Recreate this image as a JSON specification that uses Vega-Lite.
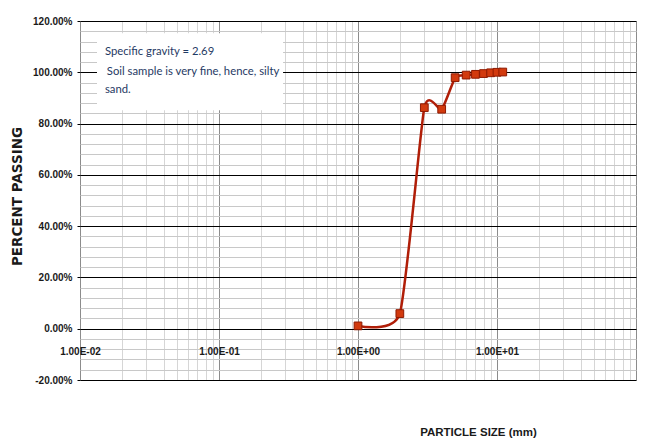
{
  "$schema": "https://vega.github.io/schema/vega-lite/v6.json",
  "width": 556,
  "height": 359,
  "autosize": {"type": "none"},
  "padding": {"left": 80, "top": 21, "right": 9, "bottom": 64},
  "background": "white",
  "config": {"view": {"stroke": null}},
  "datasets": {
    "sieve": [
      {"size": 1, "passing": 0.011},
      {"size": 2, "passing": 0.059},
      {"size": 3, "passing": 0.862},
      {"size": 4, "passing": 0.856},
      {"size": 5, "passing": 0.979},
      {"size": 6, "passing": 0.989},
      {"size": 7, "passing": 0.992},
      {"size": 8, "passing": 0.995},
      {"size": 9, "passing": 0.998},
      {"size": 10, "passing": 1.0},
      {"size": 11, "passing": 1.001}
    ],
    "box": [{"x1": 0.01325, "x2": 0.289, "y1": 0.852, "y2": 1.152}],
    "notes": [
      {"t": "Specific gravity = 2.69", "x": 0.0151, "y": 1.079},
      {"t": "Soil sample is very fine, hence, silty", "x": 0.0156, "y": 1.001},
      {"t": "sand.", "x": 0.0151, "y": 0.93}
    ]
  },
  "layer": [
    {
      "data": {"name": "sieve"},
      "mark": {"type": "line", "interpolate": "cardinal", "tension": 0.45, "color": "#B01E08", "strokeWidth": 2.5},
      "encoding": {
        "x": {
          "field": "size", "type": "quantitative",
          "scale": {"type": "log", "domain": [0.01, 100], "nice": false},
          "axis": {
            "title": "PARTICLE SIZE (mm)",
            "orient": "bottom",
            "offset": -51.3,
            "tickCount": 200,
            "values": [0.01,0.02,0.03,0.04,0.05,0.06,0.07,0.08,0.09,0.1,0.2,0.3,0.4,0.5,0.6,0.7,0.8,0.9,1,2,3,4,5,6,7,8,9,10,20,30,40,50,60,70,80,90,100],
            "labelExpr": "(abs(log(datum.value)/LN10 - round(log(datum.value)/LN10)) < 1e-6 && datum.value < 50) ? ('1.00E' + (datum.value < 1 ? '-0' : '+0') + abs(round(log(datum.value)/LN10))) : ''",
            "labelOverlap": false,
            "labelBound": false,
            "labelFlush": false,
            "labelFont": "Liberation Sans",
            "labelFontWeight": "bold",
            "labelFontSize": 10,
            "labelColor": "#1a1a1a",
            "labelBaseline": "middle",
            "labelPadding": 23,
            "domain": false,
            "ticks": false,
            "tickSize": 0,
            "grid": true,
            "gridColor": {"condition": {"test": "abs(log(datum.value)/LN10 - round(log(datum.value)/LN10)) < 1e-6", "value": "#8c8c8c"}, "value": "#d6d6d6"},
            "gridWidth": 1,
            "titleFont": "Liberation Sans",
            "titleFontWeight": "bold",
            "titleFontSize": 11.5,
            "titleColor": "#1a1a1a",
            "titleX": 398,
            "titleY": 104,
            "titleAlign": "center",
            "titleBaseline": "middle",
            "titleAnchor": null
          }
        },
        "y": {
          "field": "passing", "type": "quantitative",
          "scale": {"domain": [-0.2, 1.2], "nice": false, "zero": false},
          "axis": {
            "title": "PERCENT PASSING",
            "tickCount": 200,
            "values": [-0.2,-0.16,-0.12,-0.08,-0.04,0,0.04,0.08,0.12,0.16,0.2,0.24,0.28,0.32,0.36,0.4,0.44,0.48,0.52,0.56,0.6,0.64,0.68,0.72,0.76,0.8,0.84,0.88,0.92,0.96,1,1.04,1.08,1.12,1.16,1.2],
            "labelExpr": "abs(datum.value*5 - round(datum.value*5)) < 1e-6 ? replace(format(datum.value, '.2%'), '\u2212', '-') : ''",
            "labelOverlap": false,
            "labelBound": false,
            "labelFlush": false,
            "labelFont": "Liberation Sans",
            "labelFontWeight": "bold",
            "labelFontSize": 10,
            "labelColor": "#1a1a1a",
            "labelPadding": 5,
            "domain": false,
            "ticks": true,
            "tickSize": 3,
            "tickColor": {"condition": {"test": "abs(datum.value*5 - round(datum.value*5)) < 1e-6", "value": "#000000"}, "value": "transparent"},
            "grid": true,
            "gridColor": {"condition": {"test": "abs(datum.value*5 - round(datum.value*5)) < 1e-6", "value": "#000000"}, "value": "#c8c8c8"},
            "gridWidth": 1,
            "titleFont": "DejaVu Sans",
            "titleFontWeight": "bold",
            "titleFontSize": 13.5,
            "titleColor": "#1a1a1a",
            "titleAngle": -90,
            "titleX": -63,
            "titleY": 175,
            "titleAlign": "center",
            "titleBaseline": "middle",
            "titleAnchor": null
          }
        }
      }
    },
    {
      "data": {"name": "sieve"},
      "mark": {"type": "point", "shape": "square", "filled": true, "size": 60, "fill": "#D23A0E", "stroke": "#8E1A02", "strokeWidth": 1, "opacity": 1},
      "encoding": {
        "x": {"field": "size", "type": "quantitative"},
        "y": {"field": "passing", "type": "quantitative"}
      }
    },
    {
      "data": {"name": "box"},
      "mark": {"type": "rect", "fill": "white", "stroke": null},
      "encoding": {
        "x": {"field": "x1", "type": "quantitative"},
        "x2": {"field": "x2"},
        "y": {"field": "y1", "type": "quantitative"},
        "y2": {"field": "y2"}
      }
    },
    {
      "data": {"name": "notes"},
      "mark": {"type": "text", "align": "left", "baseline": "middle", "font": "Lato", "fontSize": 11.3, "color": "#1F3A64"},
      "encoding": {
        "x": {"field": "x", "type": "quantitative"},
        "y": {"field": "y", "type": "quantitative"},
        "text": {"field": "t"}
      }
    }
  ]
}
